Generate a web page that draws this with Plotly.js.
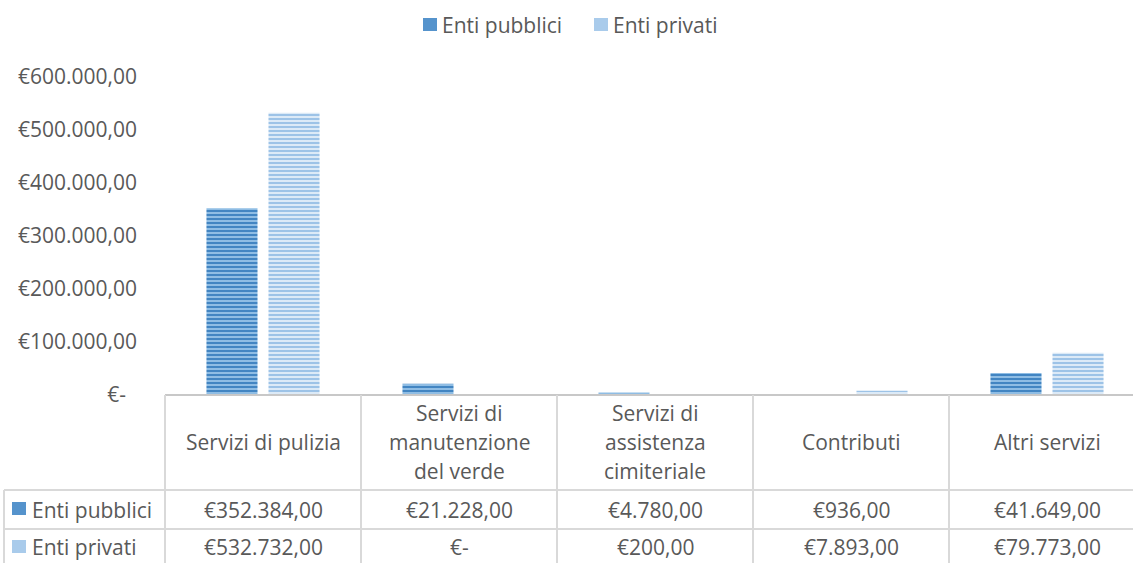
<!DOCTYPE html>
<html>
<head>
<meta charset="utf-8">
<script src="https://cdn.plot.ly/plotly-3.0.1.min.js"></script>
<style>
html,body{margin:0;padding:0;overflow:hidden;background:#fff;}
#chart{width:1145px;height:563px;}
</style>
</head>
<body>
<div id="chart"></div>
<script>
// ---- data ----
const categories = ["Servizi di pulizia", "Servizi di manutenzione del verde", "Servizi di assistenza cimiteriale", "Contributi", "Altri servizi"];
const headerLines = [["Servizi di pulizia"], ["Servizi di", "manutenzione", "del verde"], ["Servizi di", "assistenza", "cimiteriale"], ["Contributi"], ["Altri servizi"]];
const seriesNames = ["Enti pubblici", "Enti privati"];
const entiPubblici = [352384, 21228, 4780, 936, 41649];
const entiPrivati = [532732, 0, 200, 7893, 79773];
const yTickVals = [0, 100000, 200000, 300000, 400000, 500000, 600000];
const yTickText = ["€-\u00a0\u00a0", "€100.000,00", "€200.000,00", "€300.000,00", "€400.000,00", "€500.000,00", "€600.000,00"];

// ---- styling ----
const FONT = "Open Sans, DejaVu Sans, sans-serif";
const FS = 21;
const TXT = "#595959";
const GRID = "#d9d9d9";
const PLOT_L = 165, PLOT_T = 77, PLOT_B = 395, PLOT_W = 980;
const PLOT_H = PLOT_B - PLOT_T;
const py = p => (PLOT_B - p) / PLOT_H;     // pixel y -> paper y
const px = p => (p - PLOT_L) / PLOT_W;     // pixel x -> paper x

const styles = [
  {bg: "#8fbde4", fg: "#4285c2", key: "#5593cc"},
  {bg: "#dceaf7", fg: "#9dc3e7", key: "#a9cbeb"}
];

function euro(v) {
  if (v === 0) return "€-";
  const parts = Math.round(v).toString().replace(/\B(?=(\d{3})+(?!\d))/g, ".");
  return "€" + parts + ",00";
}

const series = [entiPubblici, entiPrivati];
const traces = series.map((vals, i) => ({
  type: "bar",
  name: seriesNames[i],
  x: categories,
  y: vals,
  marker: {
    color: styles[i].key,
    line: {width: 0},
    pattern: {shape: "-", bgcolor: styles[i].bg, fgcolor: styles[i].fg, size: 4, solidity: 0.5, fillmode: "replace"}
  },
  hoverinfo: "skip"
}));

const shapes = [];
const annotations = [];
const n = categories.length;

// axis / table top line
shapes.push({type: "line", xref: "paper", yref: "paper", x0: 0, x1: 1, y0: 0, y1: 0, line: {color: "#c8c8c8", width: 2}});
// row separators
[490, 529].forEach(p => shapes.push({type: "line", xref: "paper", yref: "paper", x0: px(4), x1: 1, y0: py(p), y1: py(p), line: {color: GRID, width: 2}}));
// column separators
for (let k = 0; k <= n; k++) {
  shapes.push({type: "line", xref: "paper", yref: "paper", x0: k / n, x1: k / n, y0: 0, y1: py(563), line: {color: GRID, width: 2}});
}
// left border of row labels
shapes.push({type: "line", xref: "paper", yref: "paper", x0: px(4), x1: px(4), y0: py(490), y1: py(563), line: {color: GRID, width: 2}});

// header labels
headerLines.forEach((lines, ci) => {
  lines.forEach((ln, li) => {
    const yc = 442 + (li - (lines.length - 1) / 2) * 29.5;
    annotations.push({xref: "x", yref: "paper", x: categories[ci], y: py(yc), text: ln, showarrow: false,
      xanchor: "center", yanchor: "middle", font: {family: FONT, size: FS, color: TXT}});
  });
});

// value rows
const rowY = [510, 547];
const rowKeyY = [[502, 515], [540, 553]];
series.forEach((vals, si) => {
  vals.forEach((v, ci) => {
    annotations.push({xref: "x", yref: "paper", x: categories[ci], y: py(rowY[si]), text: euro(v), showarrow: false,
      xanchor: "center", yanchor: "middle", font: {family: FONT, size: FS, color: TXT}});
  });
  // row label
  annotations.push({xref: "paper", yref: "paper", x: px(30), y: py(rowY[si]), text: seriesNames[si], showarrow: false,
    xanchor: "left", yanchor: "middle", font: {family: FONT, size: FS, color: TXT}});
  shapes.push({type: "rect", xref: "paper", yref: "paper", x0: px(12), x1: px(26), y0: py(rowKeyY[si][0]), y1: py(rowKeyY[si][1]),
    fillcolor: styles[si].key, line: {width: 0}});
});

// top legend
const legX = [[423, 437, 440], [594, 608, 611]];
series.forEach((vals, si) => {
  shapes.push({type: "rect", xref: "paper", yref: "paper", x0: px(legX[si][0]), x1: px(legX[si][1]), y0: py(18), y1: py(31),
    fillcolor: styles[si].key, line: {width: 0}});
  annotations.push({xref: "paper", yref: "paper", x: px(legX[si][2]), y: py(25), text: seriesNames[si], showarrow: false,
    xanchor: "left", yanchor: "middle", font: {family: FONT, size: FS, color: TXT}});
});

const layout = {
  width: 1145, height: 563,
  margin: {l: PLOT_L, r: 0, t: PLOT_T, b: 563 - PLOT_B, pad: 0},
  paper_bgcolor: "#ffffff", plot_bgcolor: "#ffffff",
  showlegend: false,
  barmode: "group", bargap: 0.367, bargroupgap: 0.177,
  font: {family: FONT, size: FS, color: TXT},
  xaxis: {showticklabels: false, ticks: "", showgrid: false, zeroline: false, showline: false, fixedrange: true},
  yaxis: {range: [0, 600000], tickvals: yTickVals, ticktext: yTickText, showgrid: false, zeroline: false, showline: false,
    ticks: "", ticklabelstandoff: 27, tickfont: {family: FONT, size: FS, color: TXT}, fixedrange: true},
  shapes: shapes,
  annotations: annotations
};

Plotly.newPlot("chart", traces, layout, {displayModeBar: false, staticPlot: true});
</script>
</body>
</html>
